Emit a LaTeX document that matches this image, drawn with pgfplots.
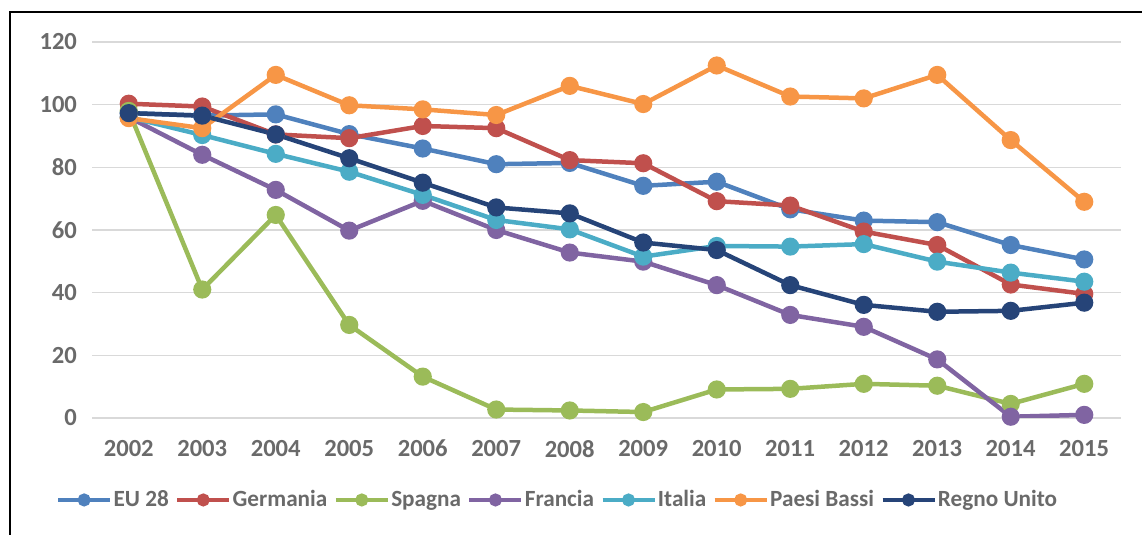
\documentclass[border=0pt]{standalone}
\usepackage{fontspec}
\setmainfont{Carlito}
\usepackage{pgfplots}
\pgfplotsset{compat=1.18}
\usepackage{pgfplotstable}

\definecolor{cEU}{HTML}{4F81BD}
\definecolor{cDE}{HTML}{C0504D}
\definecolor{cES}{HTML}{9BBB59}
\definecolor{cFR}{HTML}{8064A2}
\definecolor{cIT}{HTML}{4BACC6}
\definecolor{cNL}{HTML}{F79646}
\definecolor{cUK}{HTML}{264478}
\definecolor{txt}{HTML}{6A6A6A}
\definecolor{gridc}{HTML}{D9D9D9}

% indice (2002 circa 100)
\pgfplotstableread{
year  eu    de    es    fr    it    nl    uk
2002  97.3  100.3 98.0  96.0  96.0  95.7  97.3
2003  96.5  99.4  41.0  84.0  90.3  92.5  96.5
2004  96.9  90.5  64.8  72.8  84.3  109.5 90.5
2005  90.6  89.3  29.7  59.8  78.6  99.8  82.9
2006  86.0  93.2  13.2  69.3  71.2  98.5  75.1
2007  81.0  92.5  2.7   60.0  63.2  96.7  67.2
2008  81.4  82.3  2.4   52.8  60.2  106.0 65.3
2009  74.1  81.3  1.9   49.9  51.5  100.2 56.0
2010  75.4  69.2  9.1   42.4  54.9  112.5 53.6
2011  66.6  67.8  9.3   32.9  54.7  102.6 42.4
2012  63.0  59.5  10.9  29.1  55.5  102.0 36.1
2013  62.5  55.2  10.3  18.7  49.9  109.5 33.9
2014  55.2  42.6  4.5   0.4   46.4  88.7  34.2
2015  50.6  39.6  10.9  1.0   43.5  69.0  36.8
}\datatab

\begin{document}
\begin{tikzpicture}
\useasboundingbox (0,0) rectangle (571pt,267.5pt);
\draw[line width=1pt] (5pt,0) -- (5pt,261.5pt) -- (571pt,261.5pt);
\begin{axis}[
  at={(46pt,58.5pt)}, anchor=south west,
  scale only axis, width=514.5pt, height=188pt,
  xmin=2001.5, xmax=2015.5, ymin=0, ymax=120,
  xtick={2002,...,2015}, ytick={0,20,...,120},
  xticklabel style={/pgf/number format/1000 sep={}},
  /pgf/number format/assume math mode=true,
  tick label style={font=\fontsize{12.3}{14}\selectfont\bfseries, text=txt},
  yticklabel style={xshift=-4pt},
  xticklabel style={yshift=-7.5pt},
  axis line style={draw=none},
  major tick length=0pt,
  ymajorgrids, grid style={gridc, line width=0.75pt},
  every axis plot/.append style={line width=2.25pt, mark=*, mark size=3.4pt},
  legend columns=7,
  legend style={at={(0.452,-0.218)}, anchor=center, draw=none,
    font=\fontsize{11.6}{13}\selectfont\bfseries, text=txt,
    nodes={inner sep=0.6pt},
    /tikz/every odd column/.append style={column sep=0pt},
    /tikz/every even column/.append style={column sep=2.5pt},
    inner sep=0pt},
  legend image code/.code={
    \draw[#1, line width=2.25pt] (0pt,0pt) -- (26pt,0pt);
    \fill[#1] (13pt,0pt) circle[radius=2.1pt];},
]
\addplot[cEU] table[x=year, y=eu] {\datatab};
\addlegendentry{EU 28}
\addplot[cDE] table[x=year, y=de] {\datatab};
\addlegendentry{Germania}
\addplot[cES] table[x=year, y=es] {\datatab};
\addlegendentry{Spagna}
\addplot[cFR] table[x=year, y=fr] {\datatab};
\addlegendentry{Francia}
\addplot[cIT] table[x=year, y=it] {\datatab};
\addlegendentry{Italia}
\addplot[cNL] table[x=year, y=nl] {\datatab};
\addlegendentry{Paesi Bassi}
\addplot[cUK] table[x=year, y=uk] {\datatab};
\addlegendentry{Regno Unito}
\end{axis}
\end{tikzpicture}
\end{document}
